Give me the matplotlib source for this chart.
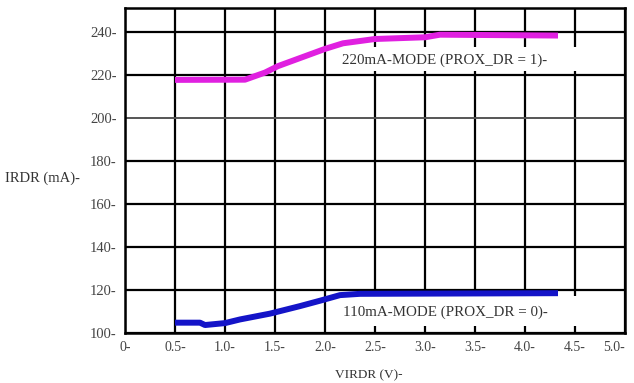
import numpy as np
import matplotlib
matplotlib.use('Agg')
import matplotlib.pyplot as plt
from matplotlib.patches import Rectangle

plt.rcParams['font.family']=['Liberation Serif','DejaVu Serif']

# 220mA mode curve (PROX_DR = 1)
v_hi=[0.5,1.2,1.4,1.53,2.0,2.18,2.5,3.0,3.15,4.33]
i_hi=[217.6,217.7,221.0,224.0,232.0,234.6,236.6,237.4,238.6,238.2]
# 110mA mode curve (PROX_DR = 0)
v_lo=[0.5,0.75,0.8,1.0,1.15,1.45,1.75,1.95,2.15,2.35,4.33]
i_lo=[104.8,104.8,103.7,104.6,106.3,109.0,112.5,115.0,117.6,118.2,118.5]

xticks=np.arange(0,5.01,0.5)
xlabels=['0-']+['%.1f-'%v for v in xticks[1:]]
yticks=np.arange(100,241,20)
ylabels=['%d-'%v for v in yticks]

fig=plt.figure(figsize=(6.34,3.83),dpi=100)
ax=fig.add_axes([125/634,50/383,500/634,325/383])
ax.set_xlim(0,5)
ax.set_ylim(100,251)
ax.set_xticks(xticks)
ax.set_xticklabels(xlabels,fontsize=10,color='#444444')
ax.get_xticklabels()[-1].set_horizontalalignment('right')
ax.set_yticks(yticks)
ax.set_yticklabels(ylabels,fontsize=10.5,color='#444444')
ax.tick_params(length=0,pad=6)
ax.set_axisbelow(True)
ax.grid(True,color='black',linewidth=1.6)
# the 200 line is lighter in the original
ax.get_ygridlines()[5].set_color('#555555')
ax.get_ygridlines()[5].set_linewidth(1.4)
for s in ax.spines.values():
    s.set_linewidth(1.8)

ax.plot(v_hi,i_hi,color='#e020e0',linewidth=4.3,zorder=3,solid_capstyle='butt')
ax.plot(v_lo,i_lo,color='#1414c8',linewidth=4.3,zorder=3,solid_capstyle='butt')

# white label backgrounds hiding the grid
ax.add_patch(Rectangle((2.1,221.6),2.43,11.5,facecolor='white',edgecolor='none',zorder=2))
ax.add_patch(Rectangle((2.1,103.4),2.43,13.8,facecolor='white',edgecolor='none',zorder=2))
ax.text(3.2,226.6,'220mA-MODE (PROX_DR = 1)-',fontsize=10.8,color='#333333',
        ha='center',va='center',zorder=2.5)
ax.text(3.2,109.7,'110mA-MODE (PROX_DR = 0)-',fontsize=10.8,color='#333333',
        ha='center',va='center',zorder=2.5)

fig.text(5/634,1-178/383,'IRDR (mA)-',fontsize=10.5,color='#333333',va='center',ha='left')
fig.text(369/634,1-375/383,'VIRDR (V)-',fontsize=9.5,color='#333333',va='center',ha='center')

fig.savefig('out.png',dpi=100)
